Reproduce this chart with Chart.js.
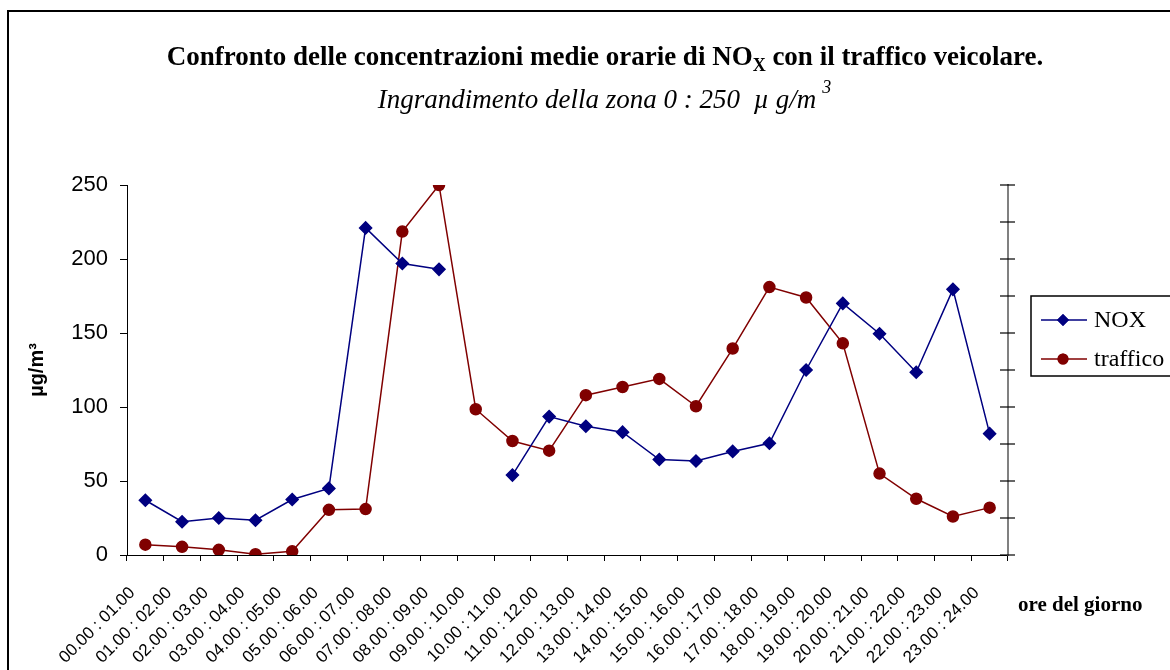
<!DOCTYPE html>
<html>
<head>
<meta charset="utf-8">
<script src="https://cdn.jsdelivr.net/npm/chart.js@4/dist/chart.umd.min.js"></script>
<style>
    html, body { margin: 0; padding: 0; background: #fff; }
    #wrap { width: 1170px; height: 670px; }
</style>
</head>
<body>
<div id="wrap"><canvas id="noxChart" width="1170" height="670"></canvas></div>
<script>
// Data
const hours = [
    '00.00 : 01.00', '01.00 : 02.00', '02.00 : 03.00', '03.00 : 04.00',
    '04.00 : 05.00', '05.00 : 06.00', '06.00 : 07.00', '07.00 : 08.00',
    '08.00 : 09.00', '09.00 : 10.00', '10.00 : 11.00', '11.00 : 12.00',
    '12.00 : 13.00', '13.00 : 14.00', '14.00 : 15.00', '15.00 : 16.00',
    '16.00 : 17.00', '17.00 : 18.00', '18.00 : 19.00', '19.00 : 20.00',
    '20.00 : 21.00', '21.00 : 22.00', '22.00 : 23.00', '23.00 : 24.00'
];
const noxValues = [37, 22.5, 25, 23.5, 37.5, 45, 221, 197, 193, null, 54, 93.5,
    87, 83, 64.5, 63.5, 70, 75.5, 125, 170, 149.5, 123.5, 179.5, 82];
const trafficValues = [7, 5.5, 3.5, 0.5, 2.5, 30.5, 31, 218.5, 250, 98.5, 77, 70.5,
    108, 113.5, 119, 100.5, 139.5, 181, 174, 143, 55, 38, 26, 32];
const yTicks = [0, 50, 100, 150, 200, 250];

const NAVY = '#000080';
const MAROON = '#800000';
const SERIF = "'Liberation Serif', 'Times New Roman', serif";
const SANS = "'Liberation Sans', Arial, sans-serif";

// Title, legend, frame and the right axis ticks
const decorations = {
    id: 'decorations',
    afterDraw(chart) {
        const ctx = chart.ctx;
        ctx.save();

        // outer frame
        ctx.strokeStyle = '#000';
        ctx.lineWidth = 2;
        ctx.strokeRect(8, 11, 1200, 700);

        // title with subscript X
        const cx = 605;
        const parts = [
            ['Confronto delle concentrazioni medie orarie di NO', 'bold 27px ' + SERIF, 0],
            ['X', 'bold 18px ' + SERIF, 6],
            [' con il traffico veicolare.', 'bold 27px ' + SERIF, 0]
        ];
        let total = 0;
        parts.forEach(p => { ctx.font = p[1]; total += ctx.measureText(p[0]).width; });
        let x = cx - total / 2;
        ctx.fillStyle = '#000';
        ctx.textBaseline = 'alphabetic';
        ctx.textAlign = 'left';
        parts.forEach(p => {
            ctx.font = p[1];
            ctx.fillText(p[0], x, 65 + p[2]);
            x += ctx.measureText(p[0]).width;
        });

        // subtitle with superscript 3
        ctx.font = 'italic 27px ' + SERIF;
        const sub = 'Ingrandimento della zona 0 : 250  \u00b5 g/m';
        const sw = ctx.measureText(sub).width;
        let sx = 597 - sw / 2;
        ctx.fillText(sub, sx, 108);
        ctx.font = 'italic 18px ' + SERIF;
        ctx.fillText('3', sx + sw + 6, 93);

        // x axis caption
        ctx.font = 'bold 21px ' + SERIF;
        ctx.fillText('ore del giorno', 1018, 611);

        // right axis: ticks crossing the line
        const y2 = chart.scales.y2;
        ctx.strokeStyle = '#000';
        ctx.lineWidth = 1.2;
        y2.ticks.forEach((t, i) => {
            const py = y2.getPixelForTick(i);
            ctx.beginPath();
            ctx.moveTo(y2.left - 8, py);
            ctx.lineTo(y2.left + 7, py);
            ctx.stroke();
        });

        // legend box
        ctx.lineWidth = 1.5;
        ctx.strokeStyle = '#000';
        ctx.strokeRect(1031, 296, 200, 80);
        const rows = [
            { label: 'NOX', color: NAVY, style: 'rectRot', y: 320 },
            { label: 'traffico', color: MAROON, style: 'circle', y: 359 }
        ];
        rows.forEach(r => {
            ctx.strokeStyle = r.color;
            ctx.lineWidth = 1.5;
            ctx.beginPath();
            ctx.moveTo(1041, r.y);
            ctx.lineTo(1087, r.y);
            ctx.stroke();
            ctx.fillStyle = r.color;
            Chart.helpers.drawPoint(ctx, { pointStyle: r.style, radius: r.style === 'circle' ? 5.5 : 6, rotation: 0 }, 1063, r.y);
            ctx.fill();
            ctx.fillStyle = '#000';
            ctx.font = '24px ' + SERIF;
            ctx.textBaseline = 'middle';
            ctx.fillText(r.label, 1094, r.y + 1);
        });

        ctx.restore();
    }
};

const ctx = document.getElementById('noxChart').getContext('2d');
new Chart(ctx, {
    type: 'line',
    data: {
        labels: hours,
        datasets: [{
            label: 'NOX',
            data: noxValues,
            borderColor: NAVY,
            backgroundColor: NAVY,
            borderWidth: 1.5,
            pointStyle: 'rectRot',
            pointRadius: 6,
            spanGaps: false
        }, {
            label: 'traffico',
            data: trafficValues,
            borderColor: MAROON,
            backgroundColor: MAROON,
            borderWidth: 1.5,
            pointStyle: 'circle',
            pointRadius: 5.5
        }]
    },
    options: {
        responsive: false,
        animation: false,
        devicePixelRatio: 1,
        layout: { padding: { top: 185, left: 0, right: 0, bottom: 0 } },
        plugins: {
            legend: { display: false },
            tooltip: { enabled: false }
        },
        scales: {
            x: {
                offset: true,
                grid: { offset: true, drawOnChartArea: false, tickLength: 6, color: '#000' },
                border: { color: '#000', width: 1 },
                ticks: {
                    autoSkip: false,
                    maxRotation: 45,
                    minRotation: 45,
                    color: '#000',
                    padding: 22,
                    labelOffset: -13,
                    font: { family: SANS, size: 17 }
                },
                afterFit: s => { s.height = 115; }
            },
            y: {
                min: 0,
                max: 250,
                afterBuildTicks: s => { s.ticks = yTicks.map(v => ({ value: v })); },
                grid: { drawOnChartArea: false, tickLength: 7, color: '#000' },
                border: { color: '#000', width: 1 },
                ticks: { color: '#000', padding: 12, font: { family: SANS, size: 22 } },
                title: {
                    display: true,
                    text: '\u00b5g/m\u00b3',
                    color: '#000',
                    font: { family: SANS, size: 20, weight: 'bold' },
                    padding: { top: 25, bottom: 0 }
                },
                afterFit: s => { s.width = 127; }
            },
            y2: {
                position: 'right',
                min: 0,
                max: 250,
                ticks: { stepSize: 25, display: false },
                grid: { drawOnChartArea: false, drawTicks: false },
                border: { color: '#808080', width: 2 },
                afterFit: s => { s.width = 162; }
            }
        }
    },
    plugins: [decorations]
});
</script>
</body>
</html>
